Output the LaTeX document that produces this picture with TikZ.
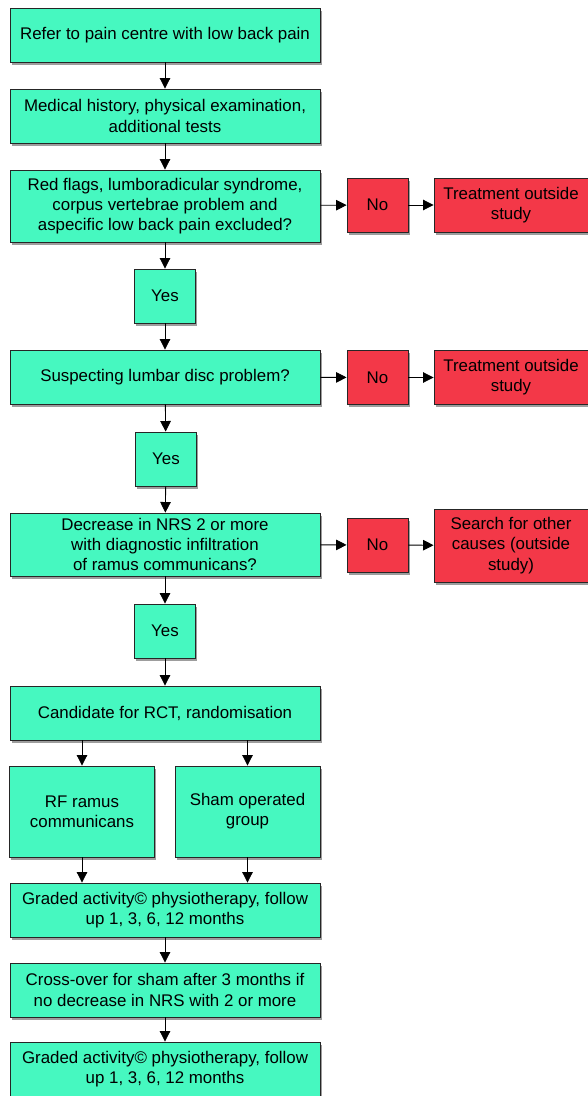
\documentclass[tikz,border=0pt]{standalone}
\usepackage{fontspec}
\setmainfont{Liberation Sans}
\usetikzlibrary{arrows.meta,shadows}
\definecolor{mint}{RGB}{70,248,192}
\definecolor{alarm}{RGB}{243,56,72}
\begin{document}
\begin{tikzpicture}[
    x=0.025cm, y=-0.025cm,
    stepbox/.style={
        rectangle,
        minimum width=7.75cm,
        minimum height=1.35cm,
        draw=black!85,
        line width=0.6pt,
        fill=mint,
        font=\fontsize{12}{14.4}\selectfont,
        align=center,
        inner sep=2pt,
        drop shadow={shadow xshift=1.4pt, shadow yshift=-2pt, fill=black!70, opacity=0.55}
    },
    answer/.style={
        stepbox,
        minimum width=1.525cm
    },
    outcome/.style={
        stepbox,
        fill=alarm,
        minimum width=3.85cm
    },
    arm/.style={
        stepbox,
        minimum width=3.625cm,
        minimum height=2.275cm
    },
    arrow/.style={
        draw=black,
        line width=0.6pt,
        -{Triangle[length=7.5pt,width=7.5pt]}
    }
]
\useasboundingbox (0,0) rectangle (587,1096);

% Main column
\node[stepbox] (refer) at (165,35) {Refer to pain centre with low back pain};
\node[stepbox] (history) at (165,116) {Medical history, physical examination,\\additional tests};
\node[stepbox, minimum height=1.8cm] (flags) at (165,206) {Red flags, lumboradicular syndrome,\\corpus vertebrae problem and\\aspecific low back pain excluded?};
\node[answer] (yesA) at (165,296) {Yes};
\node[stepbox] (disc) at (165,377) {Suspecting lumbar disc problem?};
\node[answer] (yesB) at (166,459) {Yes};
\node[stepbox, minimum height=1.575cm] (nrs) at (165,544.5) {Decrease in NRS 2 or more\\with diagnostic infiltration\\of ramus communicans?};
\node[answer] (yesC) at (165,631) {Yes};
\node[stepbox] (rct) at (165,713) {Candidate for RCT, randomisation};

% Trial arms
\node[arm] (rf) at (82,811.5) {RF ramus\\communicans};
\node[arm] (sham) at (247.5,811.5) {Sham operated\\group};

% Follow up
\node[stepbox] (gradedA) at (165,910) {Graded activity© physiotherapy, follow\\up 1, 3, 6, 12 months};
\node[stepbox] (cross) at (165,990) {Cross-over for sham after 3 months if\\no decrease in NRS with 2 or more};
\node[stepbox] (gradedB) at (165,1069) {Graded activity© physiotherapy, follow\\up 1, 3, 6, 12 months};

% Exits
\node[answer, fill=alarm] (noA) at (377.5,205) {No};
\node[outcome] (outA) at (511,205) {Treatment outside\\study};
\node[answer, fill=alarm] (noB) at (377.5,377.5) {No};
\node[outcome] (outB) at (511,377.5) {Treatment outside\\study};
\node[answer, fill=alarm] (noC) at (377.5,545) {No};
\node[outcome, minimum height=1.825cm] (search) at (511,545.5) {Search for other\\causes (outside\\study)};

% Arrows
\draw[arrow] (refer) -- (history);
\draw[arrow] (history) -- (flags);
\draw[arrow] (flags) -- (yesA);
\draw[arrow] (yesA) -- (disc);
\draw[arrow] (disc) -- (yesB);
\draw[arrow] (yesB) -- (nrs);
\draw[arrow] (nrs) -- (yesC);
\draw[arrow] (yesC) -- (rct);
\draw[arrow] (rct.south -| rf) -- (rf);
\draw[arrow] (rct.south -| sham) -- (sham);
\draw[arrow] (rf) -- (rf |- gradedA.north);
\draw[arrow] (sham) -- (sham |- gradedA.north);
\draw[arrow] (gradedA) -- (cross);
\draw[arrow] (cross) -- (gradedB);

\draw[arrow] (flags) -- (noA);
\draw[arrow] (noA) -- (outA);
\draw[arrow] (disc) -- (noB);
\draw[arrow] (noB) -- (outB);
\draw[arrow] (nrs) -- (noC);
\draw[arrow] (noC) -- (search);

\end{tikzpicture}
\end{document}
